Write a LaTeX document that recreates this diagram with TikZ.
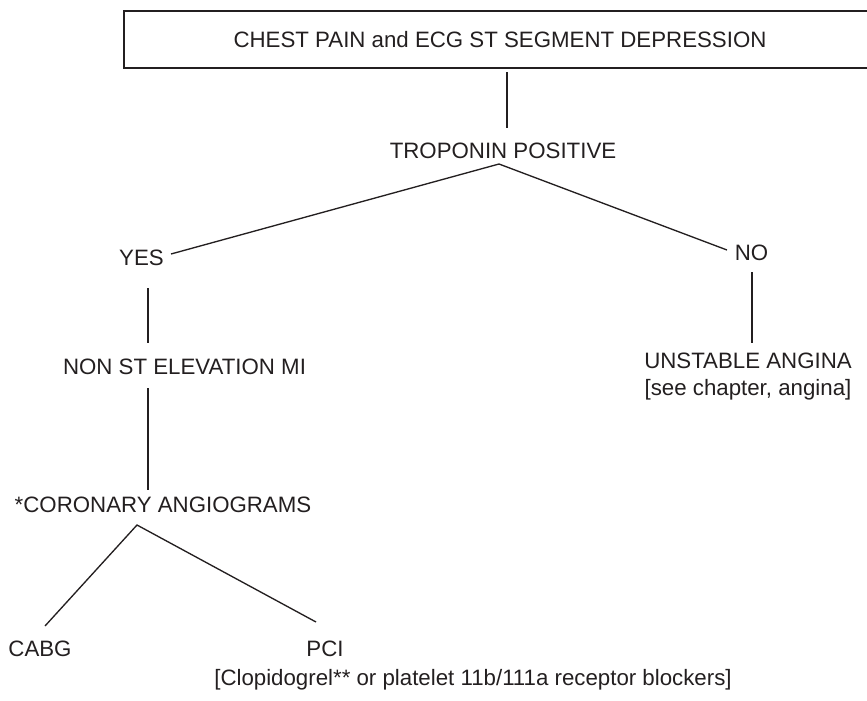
\documentclass[tikz,border=0pt]{standalone}
\usepackage{fontspec}
\setmainfont{Liberation Sans}
\definecolor{ink}{RGB}{35,31,32}
\begin{document}
\begin{tikzpicture}[x=0.75pt,y=-0.75pt,
  txt/.style={inner sep=0pt, anchor=base, text=ink, font=\fontsize{16.7}{20.3}\selectfont},
  topbox/.style={draw=ink, line width=1.5pt, inner sep=0pt, text=ink,
    font=\fontsize{16.7}{20.3}\selectfont, minimum width=561pt, minimum height=42.75pt},
  conn/.style={draw=ink, line width=1pt}]
\useasboundingbox (0,0) rectangle (867,700);
% nodes
\node[topbox] (box) at (498,39.5) {\hspace*{3pt}CHEST PAIN and ECG ST SEGMENT DEPRESSION};
\node[txt] (tro) at (503,158) {TROPONIN POSITIVE};
\node[txt] (yes) at (141.5,265) {YES};
\node[txt] (no) at (751.5,260) {NO};
\node[txt] (nstemi) at (184.5,374) {NON ST ELEVATION MI};
\node[txt] (ua) at (748,368) {UNSTABLE ANGINA};
\node[txt] (uasee) at (748,395) {[see chapter, angina]};
\node[txt] (cor) at (163,512) {*CORONARY ANGIOGRAMS};
\node[txt] (cabg) at (40,656) {CABG};
\node[txt] (pci) at (325,656) {PCI};
\node[txt] (clop) at (473,685) {[Clopidogrel** or platelet 11b/111a receptor blockers]};
% connector ends
\coordinate (boxlow) at (507,72);
\coordinate (troup) at (507,128);
\coordinate (troapex) at (499,164);
\coordinate (yesend) at (171,254);
\coordinate (noend) at (727,250);
\coordinate (yesdown) at (148,288);
\coordinate (nsup) at (148,343);
\coordinate (nsdown) at (148,388);
\coordinate (corup) at (148,490);
\coordinate (corapex) at (137,525);
\coordinate (cabgup) at (45,626);
\coordinate (pciup) at (316,622);
\coordinate (nodown) at (752,272);
\coordinate (uaup) at (752,343);
% connectors
\draw[conn] (boxlow) -- (troup);
\draw[conn] (yesend) -- (troapex) -- (noend);
\draw[conn] (yesdown) -- (nsup);
\draw[conn] (nsdown) -- (corup);
\draw[conn] (cabgup) -- (corapex) -- (pciup);
\draw[conn] (nodown) -- (uaup);
\end{tikzpicture}
\end{document}
